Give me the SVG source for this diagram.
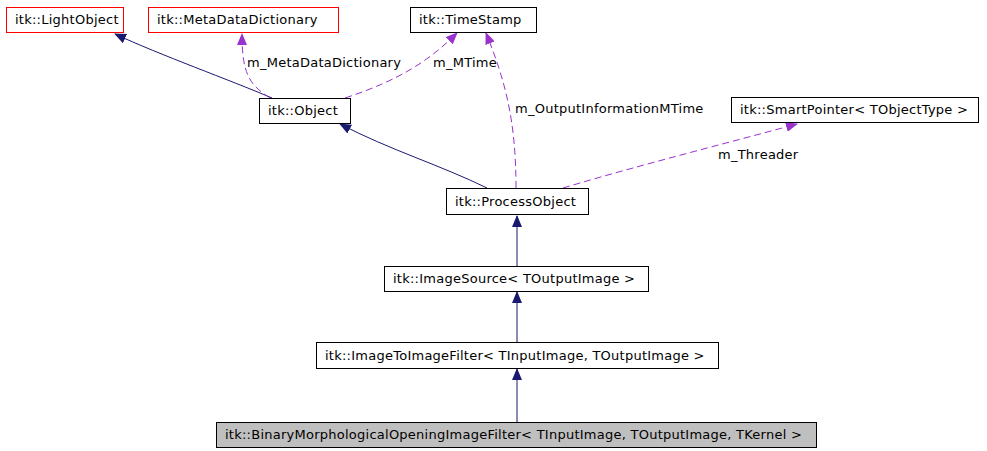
<svg xmlns="http://www.w3.org/2000/svg" width="987" height="451" viewBox="0 0 987 451">
<style>
text{font-family:"DejaVu Sans",sans-serif;font-size:13px;letter-spacing:0.25px;fill:#000}
.n rect{fill:#fff;stroke:#000;stroke-width:1}
.r rect{stroke:#f00}
.inh{fill:none;stroke:#191970;stroke-width:1}
.use{fill:none;stroke:#9a32cd;stroke-width:1;stroke-dasharray:7,4}
</style>
<defs>
<marker id="ai" markerWidth="12" markerHeight="10" refX="11" refY="5" orient="auto" markerUnits="userSpaceOnUse"><path d="M0,0L12,5L0,10z" fill="#191970"/></marker>
<marker id="au" markerWidth="12" markerHeight="10" refX="11" refY="5" orient="auto" markerUnits="userSpaceOnUse"><path d="M0,0L12,5L0,10z" fill="#9a32cd"/></marker>
</defs>
<g id="connectors">
<path class="inh" d="M272,98 C230,80 160,55 115,34" marker-end="url(#ai)"/>
<path class="inh" d="M487,188 C440,165 390,150 340,124" marker-end="url(#ai)"/>
<path class="inh" d="M517,266 L517,216" marker-end="url(#ai)"/>
<path class="inh" d="M517,342 L517,292" marker-end="url(#ai)"/>
<path class="inh" d="M517,422 L517,369" marker-end="url(#ai)"/>
<path class="use" d="M270,98 C250,85 242,75 242,34" marker-end="url(#au)"/>
<path class="use" d="M345,98 C400,80 430,60 457,33" marker-end="url(#au)"/>
<path class="use" d="M516,188 C516,120 505,80 486,33" marker-end="url(#au)"/>
<path class="use" d="M563,188 C640,165 720,145 797,124" marker-end="url(#au)"/>
<text x="247" y="67">m_MetaDataDictionary</text>
<text x="433" y="67">m_MTime</text>
<text x="515" y="113">m_OutputInformationMTime</text>
<text x="718" y="159">m_Threader</text>
</g>
<g id="LightObject" class="n r"><rect x="6.5" y="7.5" width="117" height="25"/><text x="15" y="24">itk::LightObject</text></g>
<g id="MetaDataDictionary" class="n r"><rect x="148.5" y="7.5" width="190" height="25"/><text x="157" y="24">itk::MetaDataDictionary</text></g>
<g id="TimeStamp" class="n"><rect x="410.5" y="7.5" width="126" height="25"/><text x="419" y="24">itk::TimeStamp</text></g>
<g id="Object" class="n"><rect x="259.5" y="98.5" width="91" height="25"/><text x="268" y="115">itk::Object</text></g>
<g id="SmartPointer" class="n"><rect x="731.5" y="97.5" width="247" height="25"/><text x="740" y="114">itk::SmartPointer&lt; TObjectType &gt;</text></g>
<g id="ProcessObject" class="n"><rect x="446.5" y="188.5" width="142" height="26"/><text x="455" y="206">itk::ProcessObject</text></g>
<g id="ImageSource" class="n"><rect x="384.5" y="266.5" width="264" height="25"/><text x="393" y="283">itk::ImageSource&lt; TOutputImage &gt;</text></g>
<g id="ImageToImageFilter" class="n"><rect x="316.5" y="342.5" width="402" height="26"/><text x="325" y="360">itk::ImageToImageFilter&lt; TInputImage, TOutputImage &gt;</text></g>
<g id="Binary" class="n"><rect x="216.5" y="422.5" width="600" height="25" style="fill:#bfbfbf"/><text x="225" y="439">itk::BinaryMorphologicalOpeningImageFilter&lt; TInputImage, TOutputImage, TKernel &gt;</text></g>
</svg>
